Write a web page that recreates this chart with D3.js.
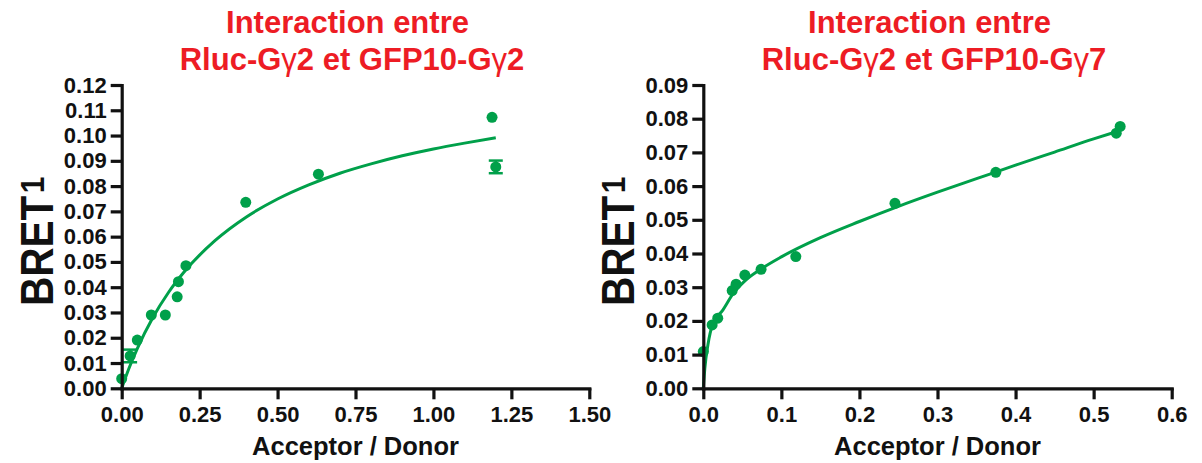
<!DOCTYPE html>
<html>
<head>
<meta charset="utf-8">
<script src="https://cdn.jsdelivr.net/npm/d3@7"></script>
<style>
  html, body { margin: 0; padding: 0; background: #fff; }
  svg { display: block; font-family: "Liberation Sans", Arial, Helvetica, sans-serif; }
</style>
</head>
<body>
<svg id="chart" width="1202" height="463"></svg>
<script>
// ---- Panel A: Rluc-Gγ2 / GFP10-Gγ2 ----
const titleA = ["Interaction entre", "Rluc-Gγ2 et GFP10-Gγ2"];
const xTicksA = [0, 0.25, 0.5, 0.75, 1.0, 1.25, 1.5];
const yTicksA = [0, 0.01, 0.02, 0.03, 0.04, 0.05, 0.06, 0.07, 0.08, 0.09, 0.10, 0.11, 0.12];
// single measurements
const ratioA = [0, 0.050, 0.095, 0.140, 0.178, 0.182, 0.206, 0.398, 0.631, 1.188];
const bretA  = [0.0038, 0.0191, 0.0290, 0.0290, 0.0362, 0.0422, 0.0485, 0.0736, 0.0847, 0.1072];
// averaged measurements with SEM
const ratioErrA = [0.027, 1.200];
const bretErrA  = [0.0128, 0.0876];
const semA      = [0.0025, 0.0025];
// saturation fit
const fitXA = [0, 0.025, 0.05, 0.1, 0.15, 0.2, 0.3, 0.4, 0.5, 0.6, 0.7, 0.8, 0.9, 1.0, 1.1, 1.2];
const fitYA = [0, 0.0084, 0.0157, 0.0280, 0.0379, 0.0460, 0.0585, 0.0678, 0.0749, 0.0805, 0.0851, 0.0888, 0.0920, 0.0947, 0.0970, 0.0991];

// ---- Panel B: Rluc-Gγ2 / GFP10-Gγ7 ----
const titleB = ["Interaction entre", "Rluc-Gγ2 et GFP10-Gγ7"];
const xTicksB = [0, 0.1, 0.2, 0.3, 0.4, 0.5, 0.6];
const yTicksB = [0, 0.01, 0.02, 0.03, 0.04, 0.05, 0.06, 0.07, 0.08, 0.09];
const ratioB = [0, 0.0113, 0.0185, 0.0370, 0.0420, 0.0532, 0.0740, 0.1185, 0.2455, 0.3747, 0.5290, 0.5340];
const bretB  = [0.0109, 0.0188, 0.0208, 0.0290, 0.0309, 0.0336, 0.0353, 0.0391, 0.0549, 0.0641, 0.0757, 0.0777];
const ratioErrB = [];
const bretErrB  = [];
const semB      = [];
const fitXB = [0, 0.002, 0.006, 0.012, 0.025, 0.038, 0.053, 0.072, 0.1, 0.15, 0.2, 0.25, 0.3, 0.35, 0.4, 0.45, 0.5, 0.53];
const fitYB = [0, 0.0060, 0.0130, 0.0190, 0.0232, 0.0280, 0.0318, 0.0351, 0.0390, 0.0447, 0.0495, 0.0540, 0.0582, 0.0622, 0.0662, 0.0701, 0.0740, 0.0762];

const xLabel = "Acceptor / Donor";
const yLabel = "BRET";
const yLabelSup = "1";

const GREEN = "#00a04a";
const RED = "#ed1c24";
const INK = "#111";
const FONT = '"Liberation Sans", Arial, Helvetica, sans-serif';

const svg = d3.select("#chart");
svg.append("rect").attr("width", 1202).attr("height", 463).attr("fill", "#fff");

function styleAxis(g) {
  g.attr("font-family", FONT).attr("font-size", 22).attr("font-weight", "bold");
  g.select(".domain").attr("stroke", INK).attr("stroke-width", 3.2).attr("stroke-linecap", "square");
  g.selectAll(".tick line").attr("stroke", INK).attr("stroke-width", 3.2);
  g.selectAll(".tick text").attr("fill", INK);
}

function drawPanel(p) {
  const x = d3.scaleLinear().domain([p.xTicks[0], p.xTicks[p.xTicks.length - 1]]).range([p.left, p.right]);
  const y = d3.scaleLinear().domain([p.yTicks[0], p.yTicks[p.yTicks.length - 1]]).range([p.bottom, p.top]);
  const g = svg.append("g");
  const cx = (p.left + p.right) / 2;

  // title, two centred lines; the Greek letter is set lighter
  p.title.forEach((line, i) => {
    const t = g.append("text")
      .attr("x", cx + (i === 0 ? -8 : -3.5))
      .attr("y", i === 0 ? 33 : 70)
      .attr("text-anchor", "middle")
      .attr("font-family", FONT)
      .attr("font-size", 31)
      .attr("font-weight", "bold")
      .attr("fill", RED);
    line.split(/(γ)/).forEach(part => {
      if (!part) return;
      t.append("tspan").attr("font-weight", part === "γ" ? "normal" : "bold").text(part);
    });
  });

  // fitted curve
  const line = d3.line().x(d => x(d[0])).y(d => y(d[1])).curve(d3.curveMonotoneX);
  g.append("path")
    .datum(p.fitX.map((v, i) => [v, p.fitY[i]]))
    .attr("d", line)
    .attr("fill", "none")
    .attr("stroke", GREEN)
    .attr("stroke-width", 3);

  // points
  g.append("g").selectAll("circle")
    .data(p.px.map((v, i) => [v, p.py[i]]))
    .join("circle")
    .attr("cx", d => x(d[0])).attr("cy", d => y(d[1])).attr("r", 5.5)
    .attr("fill", GREEN);

  // points with error bars
  const eb = g.append("g").selectAll("g")
    .data(p.ex.map((v, i) => ({ x: v, y: p.ey[i], e: p.es[i] })))
    .join("g");
  eb.append("line")
    .attr("x1", d => x(d.x)).attr("x2", d => x(d.x))
    .attr("y1", d => y(d.y - d.e)).attr("y2", d => y(d.y + d.e))
    .attr("stroke", GREEN).attr("stroke-width", 2.5);
  eb.selectAll("line.cap")
    .data(d => [{ x: d.x, y: d.y - d.e }, { x: d.x, y: d.y + d.e }])
    .join("line").attr("class", "cap")
    .attr("x1", d => x(d.x) - 7).attr("x2", d => x(d.x) + 7)
    .attr("y1", d => y(d.y)).attr("y2", d => y(d.y))
    .attr("stroke", GREEN).attr("stroke-width", 2.5);
  eb.append("circle")
    .attr("cx", d => x(d.x)).attr("cy", d => y(d.y)).attr("r", 5.5)
    .attr("fill", GREEN);

  // axes
  const xAxis = d3.axisBottom(x).tickValues(p.xTicks).tickFormat(d3.format(p.xFmt))
    .tickSize(11).tickSizeOuter(0).tickPadding(7);
  const yAxis = d3.axisLeft(y).tickValues(p.yTicks).tickFormat(d3.format(p.yFmt))
    .tickSize(11).tickSizeOuter(0).tickPadding(4);
  g.append("g").attr("transform", `translate(0,${p.bottom})`).call(xAxis).call(styleAxis);
  g.append("g").attr("transform", `translate(${p.left},0)`).call(yAxis).call(styleAxis);

  // axis titles
  g.append("text")
    .attr("x", cx).attr("y", 455)
    .attr("text-anchor", "middle")
    .attr("font-family", FONT).attr("font-size", 25.5).attr("font-weight", "bold")
    .attr("fill", INK)
    .text(xLabel);

  // rotated, slightly condensed y title with a superscript "1"
  const yBase = p.left - 69;
  const yStart = 306;
  const yt = g.append("text")
    .attr("transform", `translate(${yBase},${yStart}) rotate(-90) scale(0.88,1)`)
    .attr("font-family", FONT).attr("font-size", 46).attr("font-weight", "bold")
    .attr("fill", INK);
  yt.append("tspan").text(yLabel);
  yt.append("tspan").attr("font-size", 34).attr("dy", -9).attr("dx", 3).text(yLabelSup);
}

drawPanel({
  title: titleA, xTicks: xTicksA, yTicks: yTicksA, xFmt: ".2f", yFmt: ".2f",
  px: ratioA, py: bretA, ex: ratioErrA, ey: bretErrA, es: semA,
  fitX: fitXA, fitY: fitYA,
  left: 121.7, right: 589.3, top: 85, bottom: 388.3
});
drawPanel({
  title: titleB, xTicks: xTicksB, yTicks: yTicksB, xFmt: ".1f", yFmt: ".2f",
  px: ratioB, py: bretB, ex: ratioErrB, ey: bretErrB, es: semB,
  fitX: fitXB, fitY: fitYB,
  left: 703.3, right: 1171.7, top: 85, bottom: 388.3
});
</script>
</body>
</html>
